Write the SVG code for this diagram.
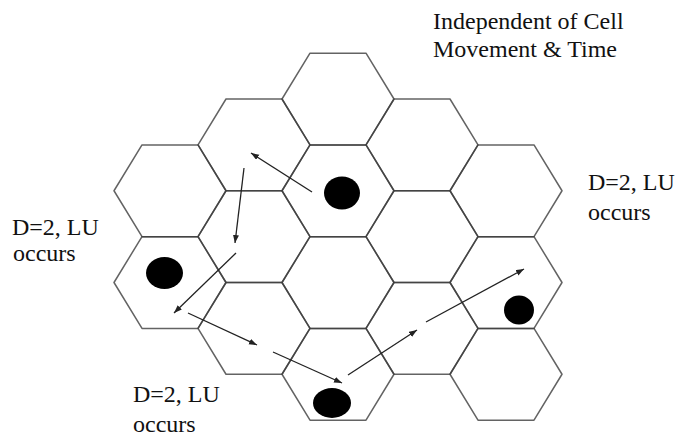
<svg xmlns="http://www.w3.org/2000/svg" xmlns:xlink="http://www.w3.org/1999/xlink" width="679" height="437" viewBox="0 0 679 437">
<style>
.hex{fill:none;stroke:#3c3c3c;stroke-width:1.5;stroke-opacity:0.8;stroke-linejoin:round}
.dot{fill:#000}
.arr{fill:none;stroke:#222;stroke-width:1.3;marker-end:url(#ah)}
.t{font-family:"Liberation Serif","Times New Roman",serif;font-size:24px;fill:#111}
</style>
<defs>
<polygon id="hx" points="-56,0 -28,-45.875 28,-45.875 56,0 28,45.875 -28,45.875"/>
<marker id="ah" markerUnits="userSpaceOnUse" markerWidth="9" markerHeight="7" refX="8" refY="3" orient="auto">
<path d="M0,0 L8,3 L0,6 z" fill="#222"/>
</marker>
</defs>
<rect width="679" height="437" fill="#fff"/>
<g id="cells">
<g id="c1r2"><use xlink:href="#hx" class="hex" x="170" y="190.75"/></g>
<g id="c1r4"><use xlink:href="#hx" class="hex" x="170" y="282.5"/></g>
<g id="c2r1"><use xlink:href="#hx" class="hex" x="254" y="144.875"/></g>
<g id="c2r3"><use xlink:href="#hx" class="hex" x="254" y="236.625"/></g>
<g id="c2r5"><use xlink:href="#hx" class="hex" x="254" y="328.375"/></g>
<g id="c3r0"><use xlink:href="#hx" class="hex" x="338" y="99"/></g>
<g id="c3r2"><use xlink:href="#hx" class="hex" x="338" y="190.75"/></g>
<g id="c3r4"><use xlink:href="#hx" class="hex" x="338" y="282.5"/></g>
<g id="c3r6"><use xlink:href="#hx" class="hex" x="338" y="374.25"/></g>
<g id="c4r1"><use xlink:href="#hx" class="hex" x="422" y="144.875"/></g>
<g id="c4r3"><use xlink:href="#hx" class="hex" x="422" y="236.625"/></g>
<g id="c4r5"><use xlink:href="#hx" class="hex" x="422" y="328.375"/></g>
<g id="c5r2"><use xlink:href="#hx" class="hex" x="506" y="190.75"/></g>
<g id="c5r4"><use xlink:href="#hx" class="hex" x="506" y="282.5"/></g>
<g id="c5r6"><use xlink:href="#hx" class="hex" x="506" y="374.25"/></g>
</g>
<g id="users">
<g id="u1"><ellipse class="dot" cx="342" cy="193" rx="18" ry="16.5"/></g>
<g id="u2"><ellipse class="dot" cx="164.5" cy="273" rx="18.5" ry="16"/></g>
<g id="u3"><ellipse class="dot" cx="332" cy="403" rx="19" ry="15"/></g>
<g id="u4"><ellipse class="dot" cx="519" cy="310" rx="15" ry="14.5"/></g>
</g>
<g id="connectors">
<line class="arr" x1="312" y1="192" x2="251" y2="153"/>
<line class="arr" x1="244" y1="168" x2="235" y2="243"/>
<line class="arr" x1="236" y1="253" x2="174" y2="313"/>
<line class="arr" x1="188" y1="313" x2="257" y2="345"/>
<line class="arr" x1="273" y1="352" x2="342" y2="383"/>
<line class="arr" x1="348" y1="375" x2="417" y2="330"/>
<line class="arr" x1="426" y1="322" x2="524" y2="269"/>
</g>
<g id="labels">
<text class="t" x="433" y="29">Independent of Cell</text>
<text class="t" x="433" y="57">Movement &amp; Time</text>
<text class="t" x="588" y="190">D=2, LU</text>
<text class="t" x="588" y="220">occurs</text>
<text class="t" x="12" y="235">D=2, LU</text>
<text class="t" x="13" y="261">occurs</text>
<text class="t" x="133" y="402">D=2, LU</text>
<text class="t" x="133" y="432">occurs</text>
</g>
</svg>
